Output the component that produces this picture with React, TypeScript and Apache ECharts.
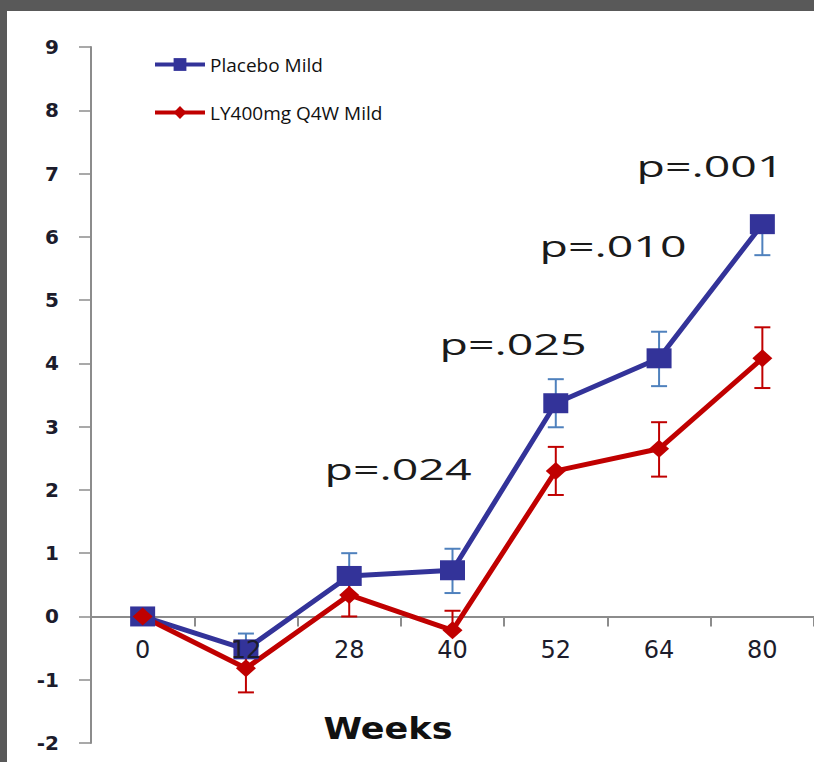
import React, { useEffect, useRef } from "react";
import * as echarts from "echarts";

// ---- data ----
const weeks = ["0", "12", "28", "40", "52", "64", "80"];
const placeboName = "Placebo Mild";
const lyName = "LY400mg Q4W Mild";
const placebo = [0, -0.52, 0.64, 0.73, 3.37, 4.08, 6.2];
const placeboHigh = [null, -0.27, 1.0, 1.07, 3.75, 4.5, null];
const placeboLow = [null, -0.77, 0.3, 0.37, 2.99, 3.64, 5.71];
const ly = [0, -0.82, 0.34, -0.22, 2.3, 2.65, 4.08];
const lyHigh = [null, -0.46, 0.68, 0.09, 2.68, 3.07, 4.57];
const lyLow = [null, -1.2, 0.0, null, 1.92, 2.21, 3.61];
const pLabels = ["p=.024", "p=.025", "p=.010", "p=.001"];
const yMin = -2;
const yMax = 9;
const xTitle = "Weeks";

// ---- styling / layout ----
const BLUE = "#333399";
const BLUE_ERR = "#4f81bd";
const RED = "#c00000";
const AXIS = "#8c8c8c";
const TEXT = "#1c1c2c";
const W = 814;
const H = 762;
const GRID = { left: 91, right: 0, top: 47, bottom: 19 };
const gridH = H - GRID.top - GRID.bottom;
// distance from the grid's bottom edge up to the zero line
const zeroOffset = ((0 - yMin) / (yMax - yMin)) * gridH;
const pLabelPos = [
  [398, 468],
  [513, 343],
  [613, 245],
  [710, 165],
];

function errSegments(center: number[], hi: (number | null)[], lo: (number | null)[]) {
  const out: number[][] = [];
  center.forEach((c, i) => {
    if (hi[i] !== null) out.push([i, c, hi[i] as number]);
    if (lo[i] !== null) out.push([i, c, lo[i] as number]);
  });
  return out;
}

function errSeries(data: number[][], color: string) {
  return {
    type: "custom",
    data,
    encode: { x: 0, y: [1, 2] },
    silent: true,
    renderItem: (_p: any, api: any) => {
      const a = api.coord([api.value(0), api.value(1)]);
      const b = api.coord([api.value(0), api.value(2)]);
      const st = { stroke: color, lineWidth: 2 };
      return {
        type: "group",
        children: [
          { type: "line", shape: { x1: a[0], y1: a[1], x2: b[0], y2: b[1] }, style: st },
          { type: "line", shape: { x1: b[0] - 8, y1: b[1], x2: b[0] + 8, y2: b[1] }, style: st },
        ],
      };
    },
  };
}

export default function App() {
  const ref = useRef<HTMLDivElement>(null);
  useEffect(() => {
    if (!ref.current) return;
    const chart = echarts.init(ref.current, undefined, { renderer: "svg" });
    chart.setOption({
      animation: false,
      backgroundColor: "transparent",
      grid: { ...GRID, containLabel: false, outerBoundsMode: "none" },
      legend: {
        orient: "vertical",
        left: 148,
        top: 50,
        itemWidth: 50,
        itemHeight: 16,
        itemGap: 29,
        data: [placeboName, lyName],
        lineStyle: { width: 4 },
        textStyle: { fontSize: 19, fontFamily: "Open Sans", color: "#111" },
      },
      xAxis: [
        {
          type: "category",
          data: weeks,
          position: "bottom",
          boundaryGap: true,
          z: 0,
          axisLine: { show: true, onZero: true, lineStyle: { color: AXIS, width: 2 } },
          axisTick: { show: true, inside: false, length: 10, interval: 0, lineStyle: { color: AXIS, width: 2 } },
          axisLabel: { show: false },
          splitLine: { show: false },
        },
        {
          type: "category",
          data: weeks,
          position: "bottom",
          offset: -zeroOffset,
          boundaryGap: true,
          z: 10,
          axisLine: { show: false, onZero: false },
          axisTick: { show: false },
          axisLabel: { show: true, margin: 22, fontSize: 24, fontFamily: "DejaVu Sans", color: TEXT, interval: 0 },
          splitLine: { show: false },
        },
      ],
      yAxis: {
        type: "value",
        min: yMin,
        max: yMax,
        interval: 1,
        axisLine: { show: true, lineStyle: { color: AXIS, width: 2 } },
        axisTick: { show: true, length: 12, lineStyle: { color: AXIS, width: 1.5 } },
        splitLine: { show: false },
        axisLabel: { fontSize: 20, fontWeight: "bold", fontFamily: "DejaVu Sans", color: TEXT, margin: 32 },
      },
      series: [
        errSeries(errSegments(placebo, placeboHigh, placeboLow), BLUE_ERR),
        {
          name: placeboName,
          type: "line",
          data: placebo,
          symbol: "rect",
          symbolSize: [25, 20],
          lineStyle: { color: BLUE, width: 5 },
          itemStyle: { color: BLUE },
        },
        errSeries(errSegments(ly, lyHigh, lyLow), RED),
        {
          name: lyName,
          type: "line",
          data: ly,
          symbol: "diamond",
          symbolSize: [20, 18],
          lineStyle: { color: RED, width: 5 },
          itemStyle: { color: RED },
        },
      ],
      graphic: [
        ...pLabels.map((t, i) => ({
          type: "text",
          x: pLabelPos[i][0],
          y: pLabelPos[i][1],
          scaleX: 1.55,
          style: {
            text: t,
            fontSize: 30,
            fontFamily: "Open Sans",
            fill: "#1a1a1a",
            align: "center",
            verticalAlign: "middle",
          },
        })),
        {
          type: "text",
          x: 388,
          y: 728,
          scaleX: 1.13,
          style: {
            text: xTitle,
            fontSize: 31,
            fontWeight: "bold",
            fontFamily: "DejaVu Sans",
            fill: "#111",
            align: "center",
            verticalAlign: "middle",
          },
        },
      ],
    });
    return () => chart.dispose();
  }, []);
  return (
    <div style={{ position: "fixed", left: 0, top: 0, width: W, height: H, background: "#595959" }}>
      <div style={{ position: "absolute", left: 7, top: 11, width: W - 7, height: H - 11, background: "#ffffff" }} />
      <div ref={ref} style={{ position: "absolute", left: 0, top: 0, width: W, height: H }} />
    </div>
  );
}
